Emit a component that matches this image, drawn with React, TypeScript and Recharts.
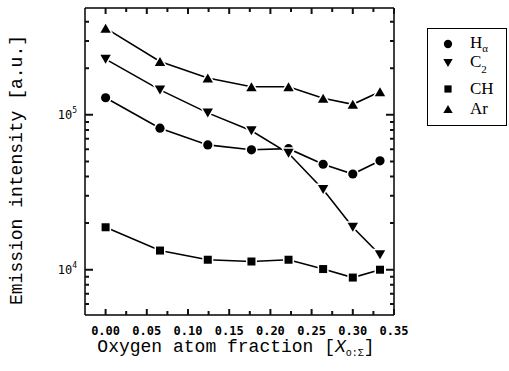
import { LineChart, Line, XAxis, YAxis, Legend, ReferenceLine } from "recharts";

// oxygen atom fraction of each measurement
const fractions = [0, 0.066, 0.124, 0.177, 0.222, 0.264, 0.3, 0.333];

// emission intensities [a.u.]
const hAlpha = [1.29e5, 8.2e4, 6.4e4, 5.95e4, 6.05e4, 4.8e4, 4.15e4, 5.05e4];
const c2 = [2.29e5, 1.45e5, 1.03e5, 7.9e4, 5.65e4, 3.3e4, 1.88e4, 1.25e4];
const ch = [1.88e4, 1.33e4, 1.16e4, 1.13e4, 1.16e4, 1.01e4, 8.9e3, 1.0e4];
const ar = [3.63e5, 2.21e5, 1.73e5, 1.52e5, 1.52e5, 1.28e5, 1.17e5, 1.41e5];

const xTicks = [0, 0.025, 0.05, 0.075, 0.1, 0.125, 0.15, 0.175, 0.2, 0.225, 0.25, 0.275, 0.3, 0.325, 0.35];
const xLabelTicks = [0, 0.05, 0.1, 0.15, 0.2, 0.25, 0.3, 0.35];
const yMajorTicks = [1e4, 1e5];
const yMinorTicks = [6e3, 7e3, 8e3, 9e3, 2e4, 3e4, 4e4, 5e4, 6e4, 7e4, 8e4, 9e4, 2e5, 3e5, 4e5];

const series = [
  { key: "hAlpha", name: "H", sub: "α", shape: "circle" },
  { key: "c2", name: "C", sub: "2", shape: "down" },
  { key: "ch", name: "CH", sub: "", shape: "square" },
  { key: "ar", name: "Ar", sub: "", shape: "up" },
];

const data = fractions.map((x, i) => ({
  x,
  hAlpha: hAlpha[i],
  c2: c2[i],
  ch: ch[i],
  ar: ar[i],
}));

const yTicks = [...yMinorTicks, ...yMajorTicks].sort((a, b) => a - b);
const xDomain = [-0.025, 0.35];
const yDomain = [5100, 490000];

// layout
const W = 509;
const H = 371;
const margin = { top: 8, right: 115, bottom: 16, left: 25 };
const yAxisWidth = 60;
const xAxisHeight = 40;
const plotTop = margin.top;
const plotRight = W - margin.right;

const tickFont = '"DejaVu Sans Mono", monospace';
const titleFont = '"Liberation Mono", monospace';
const tickStyle = { stroke: "#111", strokeWidth: 2, fill: "none" };

const isMajorX = (v: number) => xLabelTicks.some((t) => Math.abs(t - v) < 1e-9);
const isMajorY = (v: number) => yMajorTicks.some((t) => Math.abs(t - v) < 1e-6);

function Marker({ shape, cx, cy, s = 1, halo = true }: any) {
  const style = halo
    ? { fill: "#000", stroke: "#fff", strokeWidth: 3, paintOrder: "stroke" as const }
    : { fill: "#000", stroke: "none" };
  if (shape === "circle") return <circle cx={cx} cy={cy} r={4.6 * s} {...style} />;
  if (shape === "square")
    return <rect x={cx - 4 * s} y={cy - 4 * s} width={8 * s} height={8 * s} {...style} />;
  const h = 4.5 * s;
  const w = 5.2 * s;
  const pts =
    shape === "up"
      ? `${cx},${cy - h} ${cx - w},${cy + h} ${cx + w},${cy + h}`
      : `${cx - w},${cy - h} ${cx + w},${cy - h} ${cx},${cy + h}`;
  return <polygon points={pts} {...style} />;
}

// bottom ticks, mirrored on the top frame
function BottomTick(props: any) {
  const x = Number(props.x);
  const y = Number(props.y);
  const v = props.payload.value;
  const major = isMajorX(v);
  const len = major ? 6 : 4;
  return (
    <g>
      <path d={`M${x},${y}V${y - len}M${x},${plotTop}V${plotTop + len}`} style={tickStyle} />
      {major && (
        <text x={x} y={y + 20} textAnchor="middle" fontFamily={tickFont} fontWeight="bold" fontSize={12} fill="#000">
          {v.toFixed(2)}
        </text>
      )}
    </g>
  );
}

// left ticks, mirrored on the right frame
function LeftTick(props: any) {
  const x = Number(props.x);
  const y = Number(props.y);
  const v = props.payload.value;
  const major = isMajorY(v);
  const len = major ? 8 : 4;
  return (
    <g>
      <path d={`M${x},${y}H${x + len}M${plotRight},${y}H${plotRight - len}`} style={tickStyle} />
      {major && (
        <text x={x - 8} y={y + 4} textAnchor="end" fontFamily={tickFont} fontSize={12} fill="#000">
          10
          <tspan dy={-6} fontSize={8}>
            {Math.round(Math.log10(v))}
          </tspan>
        </text>
      )}
    </g>
  );
}

function XTitle() {
  return (
    <text x={236} y={352} textAnchor="middle" fontFamily={titleFont} fontSize={18} fill="#000">
      Oxygen atom fraction [<tspan fontStyle="italic">X</tspan>
      <tspan fontSize={10} dy={4}>
        o:Σ
      </tspan>
      <tspan dy={-4}>]</tspan>
    </text>
  );
}

function YTitle() {
  return (
    <text
      x={22}
      y={170}
      transform="rotate(-90, 22, 170)"
      textAnchor="middle"
      fontFamily={titleFont}
      fontSize={18}
      fill="#000"
    >
      Emission intensity [a.u.]
    </text>
  );
}

const legendRowCenters = [16, 35, 61, 81];

function LegendBox() {
  return (
    <div
      style={{
        position: "relative",
        width: 80,
        height: 98,
        boxSizing: "border-box",
        border: "1.5px solid #000",
        background: "#fff",
        fontFamily: '"Liberation Serif", serif',
        fontSize: 17,
        color: "#000",
      }}
    >
      {series.map((s, i) => (
        <div
          key={s.key}
          style={{
            position: "absolute",
            left: 0,
            top: legendRowCenters[i] - 11.5,
            height: 20,
            display: "flex",
            alignItems: "center",
            lineHeight: "20px",
          }}
        >
          <svg width={42} height={20}>
            <Marker shape={s.shape} cx={20} cy={10} s={0.9} halo={false} />
          </svg>
          <span>
            {s.name}
            {s.sub && (
              <span style={{ fontSize: 11, position: "relative", top: s.sub === "2" ? 6 : 4 }}>{s.sub}</span>
            )}
          </span>
        </div>
      ))}
    </div>
  );
}

export default function App() {
  return (
    <div style={{ position: "absolute", left: 0, top: 0, width: W, height: H, background: "#fff" }}>
      <LineChart width={W} height={H} data={data} margin={margin}>
        <XAxis
          dataKey="x"
          type="number"
          domain={xDomain}
          allowDataOverflow
          ticks={xTicks}
          interval={0}
          height={xAxisHeight}
          tickSize={0}
          tickMargin={0}
          tick={(p: any) => <BottomTick {...p} />}
          axisLine={{ stroke: "#000", strokeWidth: 1.5 }}
          label={() => <XTitle />}
        />
        <YAxis
          type="number"
          scale="log"
          domain={yDomain}
          allowDataOverflow
          ticks={yTicks}
          interval={0}
          width={yAxisWidth}
          tickSize={0}
          tickMargin={0}
          tick={(p: any) => <LeftTick {...p} />}
          axisLine={{ stroke: "#000", strokeWidth: 1.5 }}
          label={() => <YTitle />}
        />
        {/* top and right frame */}
        <ReferenceLine y={yDomain[1]} stroke="#000" strokeWidth={1.5} />
        <ReferenceLine x={xDomain[1]} stroke="#000" strokeWidth={1.5} />
        <Legend
          layout="vertical"
          align="center"
          verticalAlign="middle"
          wrapperStyle={{ left: 427, top: 28, width: 80, height: 98 }}
          content={() => <LegendBox />}
        />
        {series.map((s) => (
          <Line
            key={s.key}
            dataKey={s.key}
            stroke="#000"
            strokeWidth={1.6}
            isAnimationActive={false}
            activeDot={false}
            dot={(p: any) => <Marker key={`${s.key}-${p.index}`} shape={s.shape} cx={p.cx} cy={p.cy} />}
          />
        ))}
      </LineChart>
    </div>
  );
}
